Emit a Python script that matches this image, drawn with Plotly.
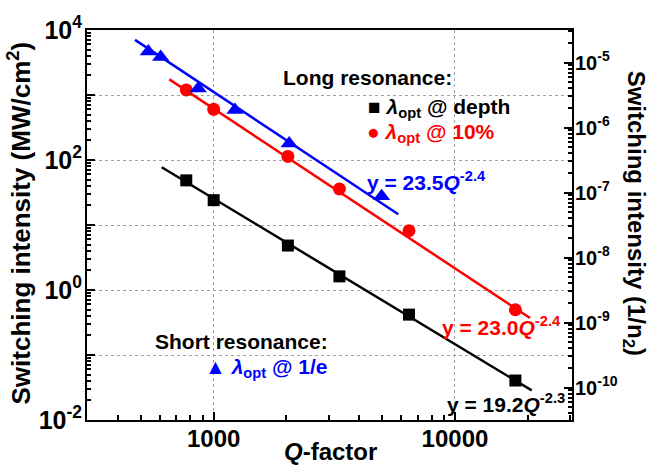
import plotly.graph_objects as go

# ---------------- data ----------------
q_long = [770, 1000, 2030, 3320, 6450, 17800]
depth_si = [48.6, 24.1, 4.83, 1.62, 0.418, 0.0405]        # lambda_opt @ depth
ten_pct_si = [1197, 603, 113.6, 35.8, 8.16, 0.497]       # lambda_opt @ 10%
q_short = [536, 603, 863, 1225, 2055, 4966]
one_e_si = [4680, 3849, 1257, 588, 179, 27.7]            # lambda_opt @ 1/e

# power-law fit lines (end points as drawn)
fit_depth_q = [609, 20800]
fit_depth_si = [77.4, 0.0285]
fit_ten_q = [655, 20460]
fit_ten_si = [1740, 0.371]
fit_1e_q = [472, 5821]
fit_1e_si = [7050, 14.6]

left_tickvals = [1e-2, 1e-1, 1e0, 1e1, 1e2, 1e3, 1e4]
left_ticktext = ["10<sup>-2</sup>", "", "10<sup>0</sup>", "", "10<sup>2</sup>", "", "10<sup>4</sup>"]
x_tickvals = [1000, 10000]
x_ticktext = ["1000", "10000"]
right_tickvals = [1e-10, 1e-9, 1e-8, 1e-7, 1e-6, 1e-5]
right_ticktext = ["10<sup>-10</sup>", "10<sup>-9</sup>", "10<sup>-8</sup>",
                  "10<sup>-7</sup>", "10<sup>-6</sup>", "10<sup>-5</sup>"]

BLACK = "#000000"
RED = "#ff0000"
BLUE = "#0000ff"
FONT = "Liberation Sans, Arial, sans-serif"

fig = go.Figure()

# fit lines
for qx, sy, col in [(fit_depth_q, fit_depth_si, BLACK),
                    (fit_ten_q, fit_ten_si, RED),
                    (fit_1e_q, fit_1e_si, BLUE)]:
    fig.add_trace(go.Scatter(x=qx, y=sy, mode="lines",
                             line=dict(color=col, width=2.5), showlegend=False,
                             hoverinfo="skip"))

# markers
fig.add_trace(go.Scatter(x=q_long, y=depth_si, mode="markers", showlegend=False,
                         marker=dict(symbol="square", size=12, color=BLACK)))
fig.add_trace(go.Scatter(x=q_long, y=ten_pct_si, mode="markers", showlegend=False,
                         marker=dict(symbol="circle", size=13, color=RED)))
fig.add_trace(go.Scatter(x=q_short, y=one_e_si, mode="markers", showlegend=False,
                         marker=dict(symbol="triangle-up", size=15, color=BLUE)))
# empty trace so the right-hand axis is drawn
fig.add_trace(go.Scatter(x=[None], y=[None], yaxis="y2", mode="markers",
                         showlegend=False, hoverinfo="skip"))

# minor tick positions (2..9 per decade)
def minors(k0, k1):
    return [m * 10.0 ** k for k in range(k0, k1) for m in range(2, 10)]

L, R, T, B = 87, 572, 25, 420
W, H = R - L, B - T

def px(x):
    return (x - L) / W

def py(y):
    return (B - y) / H

fig.update_layout(
    width=649, height=466,
    margin=dict(l=L, r=649 - R, t=T, b=466 - B),
    plot_bgcolor="white", paper_bgcolor="white",
    font=dict(family=FONT, color="black"),
    xaxis=dict(
        type="log", range=[2.475, 4.485],
        tickmode="array", tickvals=x_tickvals, ticktext=x_ticktext,
        tickfont=dict(size=24, family=FONT, weight="bold"),
        ticks="inside", ticklen=8, tickwidth=2, tickcolor="black",
        ticklabelstandoff=-4,
        minor=dict(tickmode="array", tickvals=minors(2, 5), ticks="inside",
                   ticklen=5, tickwidth=1.5, tickcolor="black", showgrid=False),
        showline=True, linecolor="black", linewidth=2, mirror=True,
        showgrid=True, gridcolor="#a0a0a0", griddash="dot", gridwidth=1,
        zeroline=False,
    ),
    yaxis=dict(
        type="log", range=[-2, 4],
        tickmode="array", tickvals=left_tickvals, ticktext=left_ticktext,
        tickfont=dict(size=25, family=FONT, weight="bold"),
        ticks="inside", ticklen=8, tickwidth=2, tickcolor="black",
        ticklabelstandoff=-2,
        minor=dict(tickmode="array", tickvals=minors(-2, 4), ticks="inside",
                   ticklen=4, tickwidth=1.5, tickcolor="black", showgrid=False),
        showline=True, linecolor="black", linewidth=2, mirror=True,
        showgrid=True, gridcolor="#a0a0a0", griddash="dot", gridwidth=1,
        zeroline=False,
    ),
    yaxis2=dict(
        type="log", range=[-10.5, -4.5], overlaying="y", side="right",
        tickmode="array", tickvals=right_tickvals, ticktext=right_ticktext,
        tickfont=dict(size=20, family=FONT, weight="bold"),
        ticks="inside", ticklen=8, tickwidth=2, tickcolor="black",
        ticklabelstandoff=-3,
        minor=dict(tickmode="array", tickvals=minors(-11, -4), ticks="inside",
                   ticklen=4, tickwidth=1.5, tickcolor="black", showgrid=False),
        showline=True, linecolor="black", linewidth=2,
        showgrid=False, zeroline=False,
    ),
)

ann = []

def add(text, x, y, size, color="black", xanchor="center", yanchor="middle", angle=0):
    ann.append(dict(text=text, x=px(x), y=py(y), xref="paper", yref="paper",
                    xanchor=xanchor, yanchor=yanchor, showarrow=False,
                    textangle=angle,
                    font=dict(family=FONT, size=size, color=color, weight="bold")))

# axis titles
add("Switching intensity (MW/cm<sup>2</sup>)", 20, 221, 26, angle=-90)
add("Switching intensity (1/n<sub>2</sub>)", 634, 210, 24, angle=90)
add("<i>Q</i>-factor", 330, 452, 24)

# legend-like texts
add("Long resonance:", 367, 73, 21)
add("■ <i>λ</i><sub>opt</sub> @ depth", 366, 104, 21, xanchor="left")
add("● <i>λ</i><sub>opt</sub> @ 10%", 365, 129, 21, RED, xanchor="left")
add("Short resonance:", 241, 340, 21)
add("▲ <i>λ</i><sub>opt</sub> @ 1/e", 203, 367, 21, BLUE, xanchor="left")

# fit equations
add("y = 23.5<i>Q</i><sup>-2.4</sup>", 365, 178, 21, BLUE, xanchor="left")
add("y = 23.0<i>Q</i><sup>-2.4</sup>", 440, 325, 21, RED, xanchor="left")
add("y = 19.2<i>Q</i><sup>-2.3</sup>", 445, 403, 21, BLACK, xanchor="left")

fig.update_layout(annotations=ann)

fig.write_html("out.html", config={"displayModeBar": False},
               post_script="document.body.style.margin='0';")
